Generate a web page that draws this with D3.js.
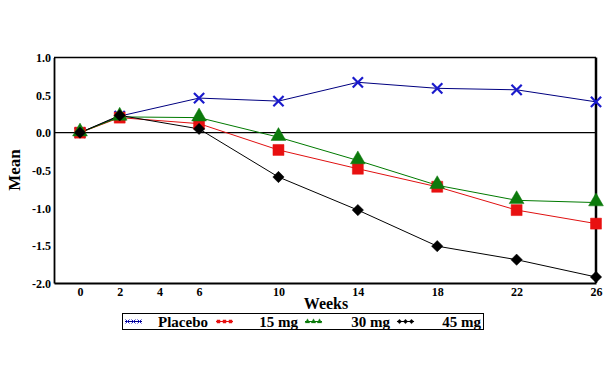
<!DOCTYPE html>
<html>
<head>
<meta charset="utf-8">
<script src="https://cdn.jsdelivr.net/npm/d3@7"></script>
<style>
  body { margin: 0; background: #fff; }
  text { font-family: "Liberation Serif", "Times New Roman", serif; font-weight: bold; }
</style>
</head>
<body>
<script>
// weeks and mean change per group
const weeks = [0, 2, 6, 10, 14, 18, 22, 26];
const placebo = [0, 0.22, 0.46, 0.42, 0.67, 0.59, 0.57, 0.41];
const mg15 = [0, 0.2, 0.12, -0.23, -0.48, -0.72, -1.03, -1.21];
const mg30 = [0, 0.21, 0.2, -0.06, -0.37, -0.7, -0.9, -0.93];
const mg45 = [0, 0.23, 0.05, -0.59, -1.03, -1.51, -1.69, -1.92];
const groupNames = ['Placebo', '15 mg', '30 mg', '45 mg'];
const xTicks = [0, 2, 4, 6, 10, 14, 18, 22, 26];
const yTicks = [1.0, 0.5, 0.0, -0.5, -1.0, -1.5, -2.0];

const W = 606, H = 371;
const pLeft = 54, pRight = 596, pTop = 57.5, pBottom = 283;

let svg = d3.select('body').append('svg')
  .attr('width', W)
  .attr('height', H);

let x = d3.scaleLinear().domain([-1.31, 26]).range([pLeft, pRight]);
let y = d3.scaleLinear().domain([-2, 1]).range([pBottom, pTop]);

// frame
svg.append('line').attr('x1', pLeft).attr('x2', pRight).attr('y1', pTop).attr('y2', pTop)
  .attr('stroke', '#000').attr('stroke-width', 1.5);
svg.append('line').attr('x1', pRight).attr('x2', pRight).attr('y1', pTop).attr('y2', pBottom)
  .attr('stroke', '#000').attr('stroke-width', 2.5);

// zero reference line
svg.append('line').attr('x1', pLeft).attr('x2', pRight).attr('y1', y(0)).attr('y2', y(0))
  .attr('stroke', '#000').attr('stroke-width', 1.2);

// axes
let xAxis = svg.append('g')
  .attr('transform', `translate(0,${pBottom})`)
  .call(d3.axisBottom(x).tickValues(xTicks).tickSize(0).tickPadding(4).tickFormat(d3.format('d')));
let yAxis = svg.append('g')
  .attr('transform', `translate(${pLeft},0)`)
  .call(d3.axisLeft(y).tickValues(yTicks).tickSize(0).tickPadding(3).tickFormat((d) => d.toFixed(1)));

[xAxis, yAxis].forEach((g) => {
  g.select('.domain').attr('stroke', '#000').attr('stroke-width', 1.8);
  g.selectAll('text')
    .attr('font-family', '"Liberation Serif", serif')
    .attr('font-weight', 'bold')
    .attr('font-size', 12)
    .attr('fill', '#000');
});
yAxis.selectAll('text').attr('dy', '0.35em');

svg.append('text')
  .attr('x', (pLeft + pRight) / 2 + 1)
  .attr('y', 309)
  .attr('text-anchor', 'middle')
  .attr('font-size', 16)
  .text('Weeks');

svg.append('text')
  .attr('transform', 'translate(20,170) rotate(-90)')
  .attr('text-anchor', 'middle')
  .attr('font-size', 17)
  .attr('font-weight', 'normal')
  .text('Mean');

// series
const series = [
  { name: groupNames[0], values: placebo, line: '#000080', color: '#1a1acc', sym: d3.symbolX, size: 70, rot: 0 },
  { name: groupNames[1], values: mg15, line: '#e01010', color: '#e81010', sym: d3.symbolSquare, size: 121, rot: 0 },
  { name: groupNames[2], values: mg30, line: '#007a00', color: '#0c7a0c', sym: d3.symbolTriangle, size: 95, rot: 0 },
  { name: groupNames[3], values: mg45, line: '#000000', color: '#000000', sym: d3.symbolSquare, size: 64, rot: 45 }
];

let line = d3.line()
  .x((d, i) => x(weeks[i]))
  .y((d) => y(d));

series.forEach((s) => {
  svg.append('path')
    .datum(s.values)
    .attr('fill', 'none')
    .attr('stroke', s.line)
    .attr('stroke-width', 1)
    .attr('d', line);
});

series.forEach((s) => {
  let isX = s.sym === d3.symbolX;
  svg.append('g').selectAll('path')
    .data(s.values)
    .enter()
    .append('path')
    .attr('d', d3.symbol(s.sym, s.size))
    .attr('transform', (d, i) => `translate(${x(weeks[i])},${y(d) + (s.sym === d3.symbolTriangle ? -1 : 0)}) rotate(${s.rot})`)
    .attr('fill', isX ? 'none' : s.color)
    .attr('stroke', s.color)
    .attr('stroke-width', isX ? 2.2 : 0.5);
});

// legend
let legend = svg.append('g');
legend.append('rect')
  .attr('x', 122.5).attr('y', 313.5)
  .attr('width', 361).attr('height', 16)
  .attr('fill', 'none')
  .attr('stroke', '#000')
  .attr('stroke-width', 1);

const legendX = [125, 216, 305, 397];
const labelEnd = [208, 298, 390, 481];
series.forEach((s, k) => {
  let g = legend.append('g');
  g.append('line')
    .attr('x1', legendX[k]).attr('x2', legendX[k] + 17)
    .attr('y1', 321.5).attr('y2', 321.5)
    .attr('stroke', s.line).attr('stroke-width', 1);
  [0, 1, 2].forEach((j) => {
    g.append('path')
      .attr('d', d3.symbol(s.sym, s.sym === d3.symbolX ? 12 : 10))
      .attr('transform', `translate(${legendX[k] + 2.5 + j * 6},321.5) rotate(${s.rot})`)
      .attr('fill', s.sym === d3.symbolX ? 'none' : s.color)
      .attr('stroke', s.color)
      .attr('stroke-width', s.sym === d3.symbolX ? 1 : 0.3);
  });
  g.append('text')
    .attr('x', labelEnd[k])
    .attr('y', 327)
    .attr('text-anchor', 'end')
    .attr('font-size', 15)
    .text(s.name);
});
</script>
</body>
</html>
